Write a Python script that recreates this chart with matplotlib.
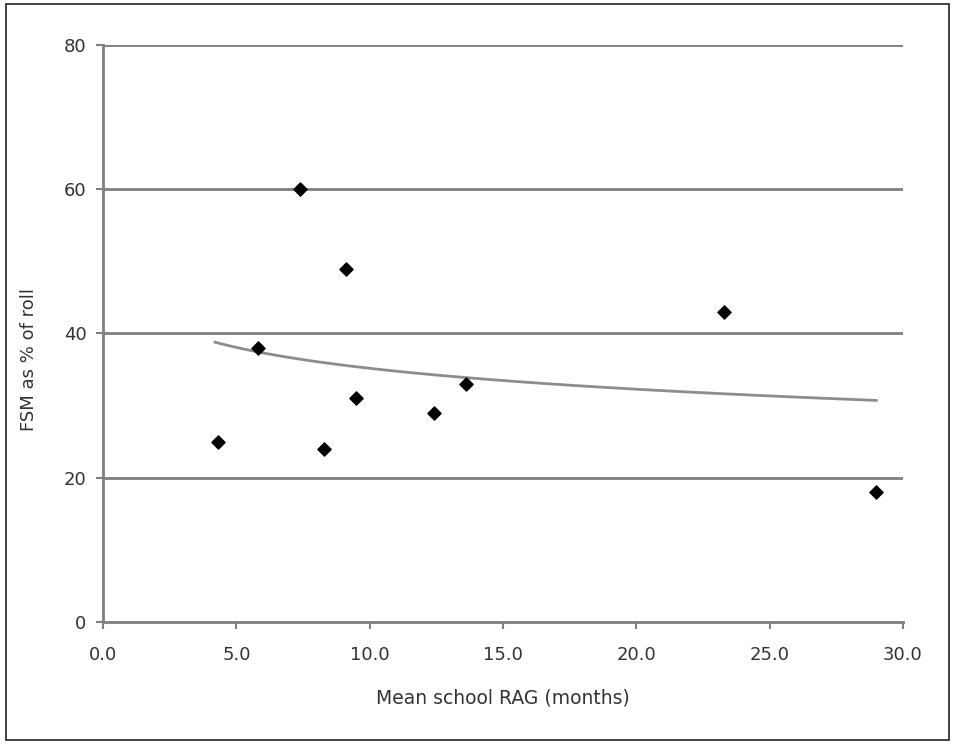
import numpy as np
import matplotlib.pyplot as plt
from matplotlib.patches import Rectangle

plt.rcParams['font.family'] = ['DejaVu Sans']

# mean school RAG (months) vs FSM as % of roll
rag = [4.3, 5.8, 7.4, 8.3, 9.1, 9.5, 12.4, 13.6, 23.3, 29.0]
fsm = [25, 38, 60, 24, 49, 31, 29, 33, 43, 18]

x_ticks = [0, 5, 10, 15, 20, 25, 30]
y_ticks = [0, 20, 40, 60, 80]

grey = "#7f7f7f"
text_col = "#333333"

fig = plt.figure(figsize=(9.55, 7.44), dpi=100)
ax = fig.add_axes([0.108, 0.164, 0.8375, 0.7755])

# outer frame round the whole figure
fig.patches.append(Rectangle((0.006, 0.006), 0.988, 0.988, transform=fig.transFigure,
                             fill=False, edgecolor="#222222", linewidth=1.2))

for yv in y_ticks[1:]:
    ax.axhline(yv, color=grey, linewidth=2, zorder=1)

# logarithmic trend line fitted to the points
b, a = np.polyfit(np.log(rag), fsm, 1)
xt = np.linspace(min(rag) - 0.1, max(rag), 100)
ax.plot(xt, a + b*np.log(xt), color="#8c8c8c", linewidth=2, zorder=2)

ax.scatter(rag, fsm, marker="D", s=45, color="black", zorder=3)

ax.set_xlim(0, 30)
ax.set_ylim(0, 80)
ax.set_xticks(x_ticks)
ax.set_xticklabels(["{:.1f}".format(v) for v in x_ticks])
ax.set_yticks(y_ticks)

for side in ["top", "right"]:
    ax.spines[side].set_visible(False)
for side in ["left", "bottom"]:
    ax.spines[side].set_color(grey)
    ax.spines[side].set_linewidth(2)

ax.tick_params(axis="both", colors=grey, labelcolor=text_col, labelsize=13,
               length=5, width=1.5)
ax.tick_params(axis="x", pad=12)
ax.tick_params(axis="y", pad=7)

ax.set_xlabel("Mean school RAG (months)", fontsize=13.5, color=text_col, labelpad=18)
ax.set_ylabel("FSM as % of roll", fontsize=13, color=text_col)
ax.yaxis.set_label_coords(-0.081, 0.455)

fig.savefig("out.png", dpi=100)
